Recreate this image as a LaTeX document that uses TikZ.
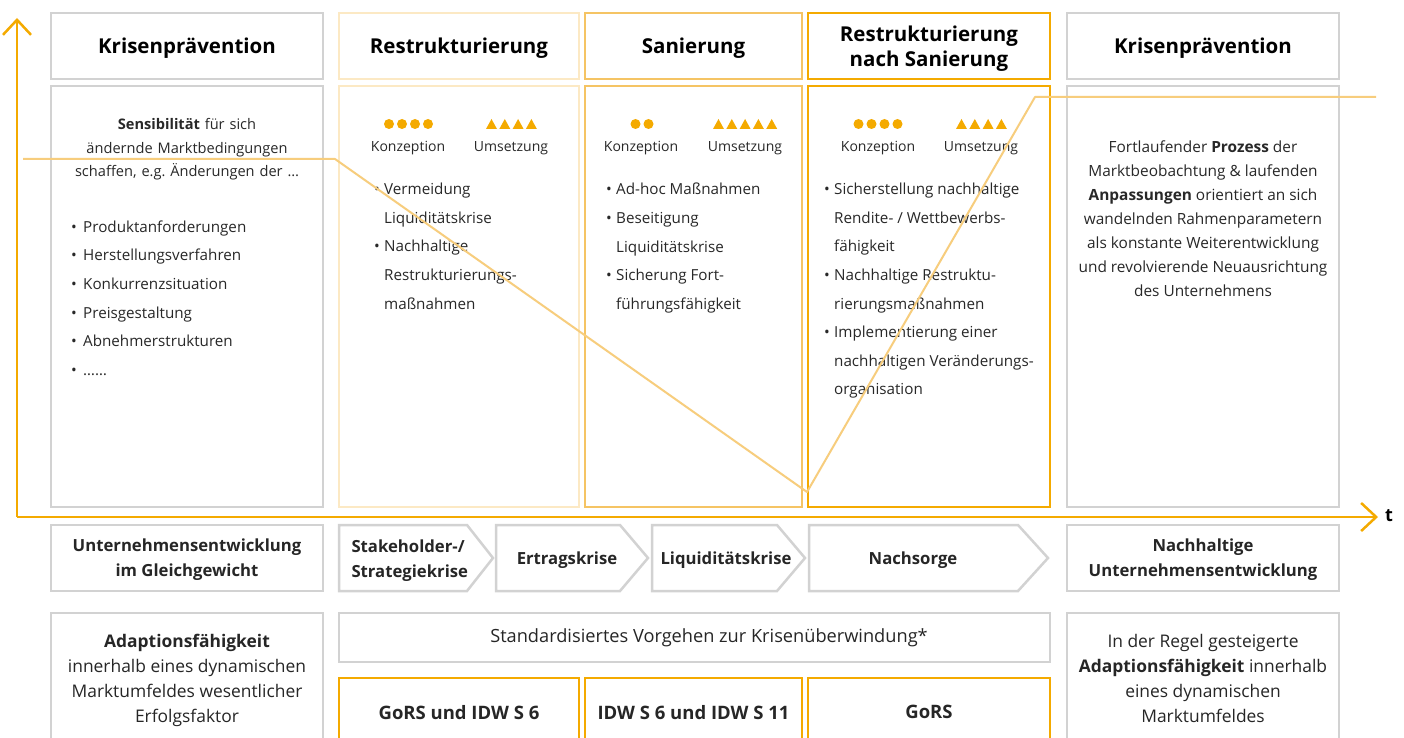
\documentclass[tikz,border=0pt]{standalone}
\usepackage{fontspec}
\setmainfont{Open Sans}
\usetikzlibrary{arrows.meta}
\frenchspacing

\definecolor{boxgrey}{RGB}{210,210,210}
\definecolor{palegold}{RGB}{252,233,196}
\definecolor{midgold}{RGB}{245,196,100}
\definecolor{deepgold}{RGB}{244,170,0}
\definecolor{curvegold}{RGB}{247,205,125}
\definecolor{bodygrey}{RGB}{40,40,40}

\tikzset{
  panel/.style={draw=#1, line width=2.5pt, fill=white, anchor=north west, inner sep=0pt, outer sep=0pt},
  headline/.style={font=\fontsize{20.5}{25}\selectfont\bfseries, align=center, text depth=-3pt},
  bodylist/.style={font=\fontsize{15.2}{28.6}\selectfont, text=bodygrey, align=left, anchor=north west, inner sep=0pt},
  bodypara/.style={font=\fontsize{15.4}{24}\selectfont, text=bodygrey, align=center, anchor=north, inner sep=0pt},
  phaselabel/.style={font=\fontsize{14}{18}\selectfont, text=bodygrey, inner sep=0pt},
  footline/.style={font=\fontsize{16.7}{25}\selectfont\bfseries, align=center, text=black!85, text depth=0pt},
  normline/.style={font=\fontsize{18.5}{25}\selectfont\bfseries, align=center, text=black!85, text depth=0pt},
  footpara/.style={font=\fontsize{17.4}{25}\selectfont, align=center, text=black!85},
  axis/.style={draw=deepgold, line width=2.5pt, -{Straight Barb[length=15pt,width=28pt]}},
}

\newcommand{\bul}[1][10pt]{\makebox[#1][l]{\textbullet}}
\newcommand{\cont}[1][10pt]{\hspace*{#1}}
% row of dots / triangles: x of first centre, count
\newcommand{\dotrow}[2]{\foreach \k in {1,...,#2} \fill[deepgold] (#1+13*\k-13,124) circle (5pt);}
\newcommand{\trirow}[2]{\foreach \k in {1,...,#2} \fill[deepgold] (#1+13.3*\k-13.3-5.5,129) -- ++(11,0) -- ++(-5.5,-10) -- cycle;}
% phase arrow: left x, end of flat part, tip x
\newcommand{\phasearrow}[3]{\draw[draw=boxgrey, line width=2.5pt, fill=white] (#1,525) -- (#2,525) -- (#3,558) -- (#2,591) -- (#1,591) -- cycle;}

\begin{document}
\begin{tikzpicture}[x=1pt,y=-1pt]
\clip (0,0) rectangle (1404,738);

% titles
\node[panel=boxgrey, minimum width=272pt, minimum height=66pt, headline] (kphead) at (51,13) {Krisenprävention};
\node[panel=palegold, minimum width=240pt, minimum height=66pt, headline] (rshead) at (339,13) {Restrukturierung};
\node[panel=midgold, minimum width=217pt, minimum height=66pt, headline] (sahead) at (585,13) {Sanierung};
\node[panel=deepgold, minimum width=242pt, minimum height=66pt, headline] (rnhead) at (808,13) {Restrukturierung\\nach Sanierung};
\node[panel=boxgrey, minimum width=272pt, minimum height=66pt, headline] (kqhead) at (1067,13) {Krisenprävention};

% bodies
\foreach \nm/\x/\w/\c in {kp/51/272/boxgrey, rs/339/240/palegold, sa/585/217/midgold, rn/808/242/deepgold, kq/1067/272/boxgrey}
  \node[panel=\c, minimum width=\w pt, minimum height=421pt] (\nm-body) at (\x,86) {};

\node[bodypara, text width=260pt, font=\fontsize{14.6}{23.5}\selectfont] (kp-intro) at (187,118.5) {\textbf{Sensibilität} für sich\\ändernde Marktbedingungen\\schaffen, e.g. Änderungen der \dots};
\node[bodylist] (kp-list) at (71,220.5) {\bul[12pt]Produktanforderungen\\\bul[12pt]Herstellungsverfahren\\\bul[12pt]Konkurrenzsituation\\\bul[12pt]Preisgestaltung\\\bul[12pt]Abnehmerstrukturen\\\bul[12pt]\dots\dots};

\dotrow{389}{4} \trirow{491.5}{4}
\node[phaselabel] (rs-konz) at (408,148.5) {Konzeption};
\node[phaselabel] (rs-ums) at (511,148.5) {Umsetzung};
\node[bodylist] (rs-list) at (374,183) {\bul Vermeidung\\\cont Liquiditätskrise\\\bul Nachhaltige\\\cont Restrukturierungs-\\\cont maßnahmen};

\dotrow{635.5}{2} \trirow{718.5}{5}
\node[phaselabel] (sa-konz) at (641,148.5) {Konzeption};
\node[phaselabel] (sa-ums) at (745,148.5) {Umsetzung};
\node[bodylist] (sa-list) at (606,183) {\bul Ad-hoc Maßnahmen\\\bul Beseitigung\\\cont Liquiditätskrise\\\bul Sicherung Fort-\\\cont führungsfähigkeit};

\dotrow{858.5}{4} \trirow{961.5}{4}
\node[phaselabel] (rn-konz) at (878,148.5) {Konzeption};
\node[phaselabel] (rn-ums) at (981,148.5) {Umsetzung};
\node[bodylist] (rn-list) at (824,183) {\bul Sicherstellung nachhaltige\\\cont Rendite- / Wettbewerbs-\\\cont fähigkeit\\\bul Nachhaltige Restruktu-\\\cont rierungsmaßnahmen\\\bul Implementierung einer\\\cont nachhaltigen Veränderungs-\\\cont organisation};

\node[bodypara] (kq-text) at (1203,141) {Fortlaufender \textbf{Prozess} der\\Marktbeobachtung \& laufenden\\\textbf{Anpassungen} orientiert an sich\\wandelnden Rahmenparametern\\als konstante Weiterentwicklung\\und revolvierende Neuausrichtung\\des Unternehmens};

% crisis phases
\node[panel=boxgrey, minimum width=272pt, minimum height=66pt, footline] (balance) at (51,525) {Unternehmensentwicklung\\im Gleichgewicht};
\phasearrow{339}{467}{493}
\phasearrow{496}{620}{648}
\phasearrow{652}{777}{805}
\phasearrow{809}{1018}{1048}
\node[footline, align=left, anchor=west] (stake) at (348,559) {Stakeholder-/\\Strategiekrise};
\node[footline] (ertrag) at (567,558) {Ertragskrise};
\node[footline] (liqui) at (726,558) {Liquiditätskrise};
\node[footline] (nachsorge) at (913,558) {Nachsorge};
\node[panel=boxgrey, minimum width=272pt, minimum height=66pt, footline] (sustain) at (1067,525) {Nachhaltige\\Unternehmensentwicklung};

% bottom row
\node[panel=boxgrey, minimum width=272pt, minimum height=150pt] (adapt) at (51,613) {};
\node[footpara] (adapt-text) at (187,680.5) {\textbf{Adaptionsfähigkeit}\\innerhalb eines dynamischen\\Marktumfeldes wesentlicher\\Erfolgsfaktor};
\node[panel=boxgrey, minimum width=711pt, minimum height=49pt] (standard) at (339,613) {};
\node[footpara, font=\fontsize{18.2}{25}\selectfont] (standard-text) at (709,637.5) {Standardisiertes Vorgehen zur Krisenüberwindung*};
\node[panel=deepgold, minimum width=240pt, minimum height=68pt, normline] (gorsidw) at (339,678) {GoRS und IDW S 6};
\node[panel=deepgold, minimum width=217pt, minimum height=68pt, normline] (idw) at (585,678) {IDW S 6 und IDW S 11};
\node[panel=deepgold, minimum width=242pt, minimum height=68pt, normline] (gors) at (808,678) {GoRS};
\node[panel=boxgrey, minimum width=272pt, minimum height=150pt] (adapt2) at (1067,613) {};
\node[footpara] (adapt2-text) at (1203,678) {In der Regel gesteigerte\\\textbf{Adaptionsfähigkeit} innerhalb\\eines dynamischen\\Marktumfeldes};

% course of the company
\coordinate (c0) at (23,159);
\coordinate (c1) at (335,159);
\coordinate (c2) at (807,492);
\coordinate (c3) at (1035,97);
\coordinate (c4) at (1376,97);
\draw[curvegold, line width=2pt, line join=round] (c0) -- (c1) -- (c2) -- (c3) -- (c4);

% axes
\coordinate (origin) at (17,517);
\coordinate (ytip) at (17,18);
\coordinate (xtip) at (1378,517);
\draw[axis] (origin) -- (ytip);
\draw[axis] (origin) -- (xtip);
\node[font=\fontsize{18}{20}\selectfont\bfseries, anchor=west, inner sep=0pt] (tlabel) at (1385,516) {t};

\end{tikzpicture}
\end{document}
